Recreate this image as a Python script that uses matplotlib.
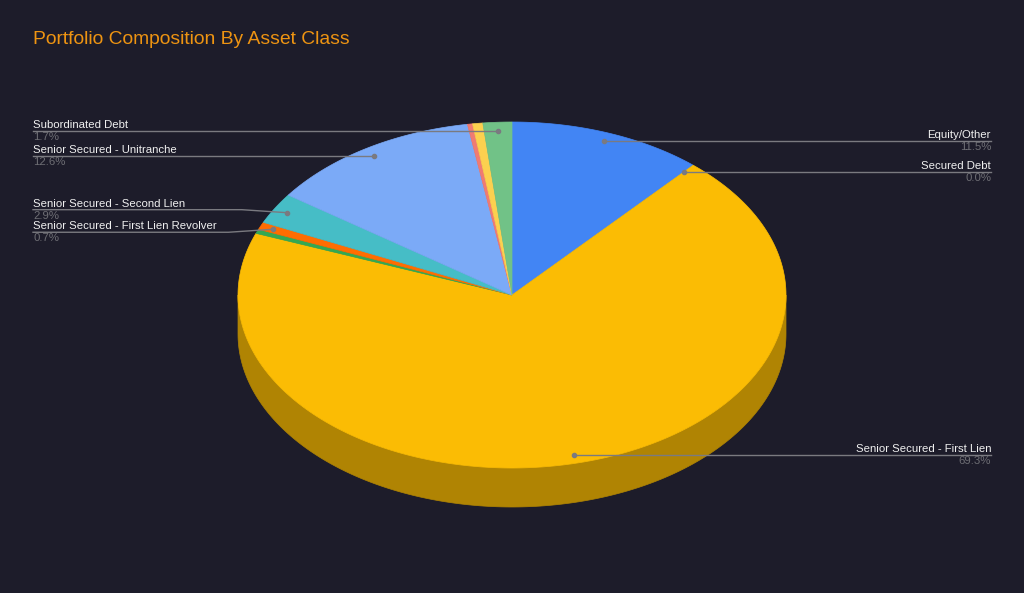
import numpy as np
import matplotlib.pyplot as plt

# Data
labels = ["Equity/Other", "Secured Debt", "Senior Secured - First Lien", "Other A",
          "Senior Secured - First Lien Revolver", "Senior Secured - Second Lien",
          "Senior Secured - Unitranche", "Other B", "Other C", "Subordinated Debt"]
values = [11.5, 0.0, 69.3, 0.4, 0.7, 2.9, 12.6, 0.3, 0.6, 1.7]
show_label = [True, True, True, False, True, True, True, False, False, True]
colors = ["#4285F4", "#EA4335", "#FBBC04", "#34A853", "#FF6D01",
          "#46BDC6", "#7BAAF7", "#F07B72", "#FCD04F", "#71C287"]

BG = "#1d1c2a"
cx, cy, rx, ry, depth = 512, 295, 274, 173, 39


def darken(c, f=0.7):
    c = c.lstrip("#")
    r, g, b = (int(c[i:i + 2], 16) for i in (0, 2, 4))
    return (r / 255 * f, g / 255 * f, b / 255 * f)


def rim(theta, drop=0):
    t = np.radians(theta)
    return cx + rx * np.sin(t), cy - ry * np.cos(t) + drop


fig = plt.figure(figsize=(10.24, 5.93), dpi=100, facecolor=BG)
ax = fig.add_axes([0, 0, 1, 1])
ax.set_facecolor(BG)
ax.set_xlim(0, 1024)
ax.set_ylim(593, 0)
ax.axis("off")

total = sum(values)
angles = np.concatenate([[0], np.cumsum(values) / total * 360])

# side walls (only the front half, 90..270 deg clockwise from top)
for i, v in enumerate(values):
    a1, a2 = max(angles[i], 90), min(angles[i + 1], 270)
    if a2 <= a1:
        continue
    th = np.linspace(a1, a2, 200)
    xt, yt = rim(th)
    xb, yb = rim(th[::-1], depth)
    ax.fill(np.concatenate([xt, xb]), np.concatenate([yt, yb]),
            color=darken(colors[i]), lw=0.5, zorder=1)

# top faces
for i, v in enumerate(values):
    if v <= 0:
        continue
    th = np.linspace(angles[i], angles[i + 1], max(int(v * 10), 10))
    xs, ys = rim(th)
    ax.fill(np.concatenate([[cx], xs]), np.concatenate([[cy], ys]),
            color=colors[i], lw=0.5, zorder=2)

# labels
nudge = {"Senior Secured - Second Lien": -3, "Senior Secured - First Lien Revolver": 3}
for i, name in enumerate(labels):
    if not show_label[i]:
        continue
    mid = (angles[i] + angles[i + 1]) / 2
    t = np.radians(mid)
    dx, dy = cx + 0.95 * rx * np.sin(t), cy - 0.95 * ry * np.cos(t)
    ly = dy + nudge.get(name, 0)
    pct = f"{values[i] / total * 100:.1f}%"
    if mid > 180:
        xs = [33, dx - 45, dx]
        tx, ha = 33, "left"
    else:
        xs = [dx, dx + 45, 991]
        tx, ha = 991, "right"
    ys = [ly, ly, dy] if mid > 180 else [dy, ly, ly]
    ax.plot(xs, ys, color="#7a7a80", lw=1, zorder=3)
    ax.plot(dx, dy, "o", ms=3, color="#7a7a80", zorder=4)
    ax.text(tx, ly - 3, name, ha=ha, va="baseline", fontsize=8.2,
            family="Liberation Sans", color="#f0f0f0", zorder=5)
    ax.text(tx, ly + 1, pct, ha=ha, va="top", fontsize=8.2,
            family="Liberation Sans", color="#6e6e74", zorder=5)

ax.text(33, 39, "Portfolio Composition By Asset Class", ha="left", va="center",
        fontsize=13.9, family="Liberation Sans", color="#EE9412")

fig.savefig("out.png", dpi=100, facecolor=BG)
